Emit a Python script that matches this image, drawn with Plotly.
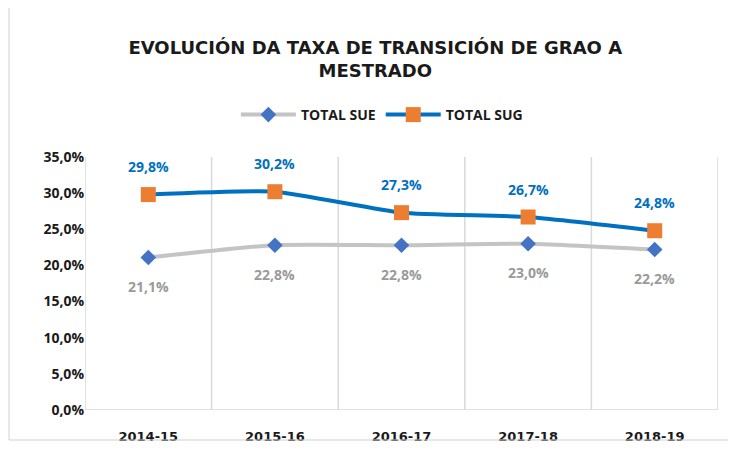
'''
    Line chart: evolution of the transition rate from degree to master.
'''

import plotly.graph_objects as go

years = ["2014-15", "2015-16", "2016-17", "2017-18", "2018-19"]
total_sue = [21.1, 22.8, 22.8, 23.0, 22.2]
total_sug = [29.8, 30.2, 27.3, 26.7, 24.8]
y_ticks = [0, 5, 10, 15, 20, 25, 30, 35]


def fmt(value):
    # Galician decimal comma
    return f"{value:.1f}%".replace(".", ",")


fig = go.Figure()

fig.add_trace(go.Scatter(
    x=years, y=total_sue, name="TOTAL SUE", mode="lines+markers",
    line=dict(color="#C4C4C4", width=4, shape="spline", smoothing=0.5),
    marker=dict(symbol="diamond", size=12, color="#4472C4"),
))

fig.add_trace(go.Scatter(
    x=years, y=total_sug, name="TOTAL SUG", mode="lines+markers",
    line=dict(color="#0070C0", width=4, shape="spline", smoothing=0.5),
    marker=dict(symbol="square", size=15, color="#ED7D31"),
))

# data labels, pushed away from the markers
for yr, v in zip(years, total_sug):
    fig.add_annotation(x=yr, y=v, text=fmt(v), showarrow=False, yshift=28,
                       font=dict(family="Open Sans", size=14, color="#0070C0", weight="bold"))
for yr, v in zip(years, total_sue):
    fig.add_annotation(x=yr, y=v, text=fmt(v), showarrow=False, yshift=-29,
                       font=dict(family="Open Sans", size=14, color="#9A9A9A", weight="bold"))

fig.update_layout(
    width=736, height=450,
    margin=dict(l=77, r=26, t=149, b=48),
    paper_bgcolor="white", plot_bgcolor="white",
    title=dict(
        text="EVOLUCIÓN DA TAXA DE TRANSICIÓN DE GRAO A<br>MESTRADO",
        x=0.499, xanchor="center", y=0.898, yanchor="middle",
        font=dict(family="DejaVu Sans", size=18, color="#1A1A1A", weight="bold"),
    ),
    legend=dict(
        orientation="h", x=0.469, xanchor="center", y=1.166, yanchor="middle",
        font=dict(family="Open Sans", size=14, color="#1A1A1A", weight="bold"),
        itemwidth=55, traceorder="normal",
    ),
    showlegend=True,
)

fig.update_xaxes(
    type="category", showgrid=False, showline=False, ticks="",
    tickfont=dict(family="DejaVu Sans", size=13, color="#1A1A1A", weight="bold"),
    range=[-0.5, 4.5], ticklabelstandoff=17,
)

fig.update_yaxes(
    range=[0, 35], tickvals=y_ticks, ticktext=[fmt(v) for v in y_ticks],
    showgrid=False, zeroline=False, showline=False, ticks="",
    tickfont=dict(family="Open Sans", size=14, color="#1A1A1A", weight="bold"),
)

# vertical gridlines at category boundaries and bottom axis line
for i in range(len(years) + 1):
    fig.add_shape(type="line", xref="x", yref="y", x0=i - 0.5, x1=i - 0.5,
                  y0=0, y1=35, line=dict(color="#D9D9D9", width=1.5), layer="below")
fig.add_shape(type="line", xref="paper", yref="y", x0=0, x1=1, y0=0, y1=0,
              line=dict(color="#D9D9D9", width=1.5), layer="below")

# outer chart frame
fig.add_shape(type="rect", xref="paper", yref="paper",
              x0=-0.12, x1=1.047, y0=-0.1186, y1=1.63,
              line=dict(color="#D0D0D0", width=1))

fig.write_html("out.html")
